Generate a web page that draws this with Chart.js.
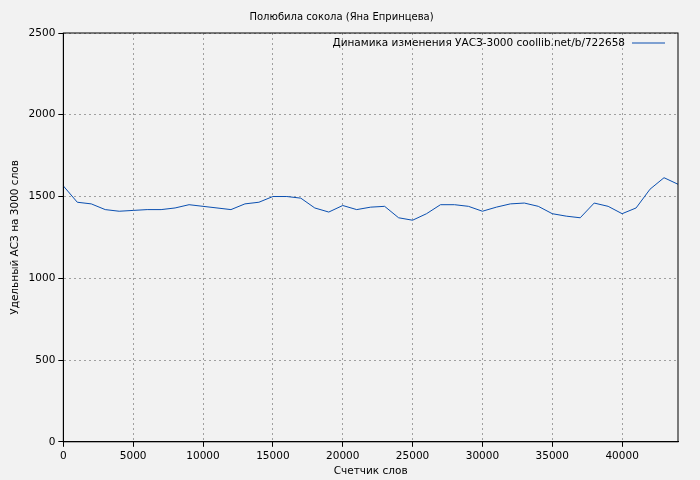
<!DOCTYPE html>
<html>
<head>
  <script src="https://cdn.jsdelivr.net/npm/chart.js@4"></script>
  <style>
    body { margin: 0; background: #f2f2f2; }
    #wrap { width: 700px; height: 480px; }
  </style>
</head>
<body>
  <div id="wrap"><canvas id="chart"></canvas></div>
  <script>
    // точки через каждые 1000 слов
    const words = [0, 1000, 2000, 3000, 4000, 5000, 6000, 7000, 8000, 9000, 10000, 11000, 12000, 13000, 14000,
      15000, 16000, 17000, 18000, 19000, 20000, 21000, 22000, 23000, 24000, 25000, 26000, 27000, 28000, 29000,
      30000, 31000, 32000, 33000, 34000, 35000, 36000, 37000, 38000, 39000, 40000, 41000, 42000, 43000, 44000];
    const uas = [1565, 1465, 1455, 1420, 1410, 1415, 1420, 1420, 1430, 1450, 1440, 1430, 1420, 1455, 1465,
      1500, 1500, 1490, 1430, 1405, 1445, 1420, 1435, 1440, 1370, 1355, 1395, 1450, 1450, 1440,
      1410, 1435, 1455, 1460, 1440, 1395, 1380, 1370, 1460, 1440, 1395, 1430, 1545, 1615, 1575];
    const xTicks = [0, 5000, 10000, 15000, 20000, 25000, 30000, 35000, 40000];
    const yTicks = [0, 500, 1000, 1500, 2000, 2500];
    const seriesLabel = 'Динамика изменения УАСЗ-3000 coollib.net/b/722658';
    const lineColor = '#0a4fb0';

    const legendRight = {
      id: 'legendRight',
      afterDraw(chart) {
        const { ctx, chartArea } = chart;
        ctx.save();
        ctx.font = '10.5px "DejaVu Sans"';
        ctx.fillStyle = '#000';
        ctx.textAlign = 'right';
        ctx.textBaseline = 'middle';
        const y = chartArea.top + 10;
        ctx.fillText(seriesLabel, chartArea.right - 53, y);
        ctx.strokeStyle = lineColor;
        ctx.lineWidth = 1;
        ctx.beginPath();
        ctx.moveTo(chartArea.right - 46, y);
        ctx.lineTo(chartArea.right - 13, y);
        ctx.stroke();
        ctx.strokeStyle = '#000';
        ctx.strokeRect(chartArea.left, chartArea.top, chartArea.right - chartArea.left, chartArea.bottom - chartArea.top);
        ctx.restore();
      }
    };

    const gridCommon = {
      color: '#a0a0a0',
      tickColor: '#000',
      tickLength: 5
    };
    const tickFont = { family: 'DejaVu Sans', size: 10.5 };

    new Chart(document.getElementById('chart'), {
      type: 'line',
      data: {
        datasets: [{
          label: seriesLabel,
          data: words.map((w, i) => ({ x: w, y: uas[i] })),
          borderColor: lineColor,
          borderWidth: 1,
          pointRadius: 0,
          tension: 0
        }]
      },
      options: {
        responsive: true,
        maintainAspectRatio: false,
        animation: false,
        layout: { padding: { left: 5, right: 22, top: 2, bottom: 2 } },
        plugins: {
          legend: { display: false },
          title: {
            display: true,
            text: 'Полюбила сокола (Яна Епринцева)',
            color: '#000',
            font: { family: 'DejaVu Sans', size: 10, weight: 'normal' },
            padding: { top: 9, bottom: 10 }
          }
        },
        scales: {
          x: {
            type: 'linear',
            min: 0,
            max: 44000,
            afterBuildTicks: s => { s.ticks = xTicks.map(v => ({ value: v })); },
            ticks: { color: '#000', font: tickFont, maxRotation: 0, callback: v => String(v) },
            grid: gridCommon,
            border: { display: true, color: '#000', dash: [2, 3] },
            title: { display: true, text: 'Счетчик слов', color: '#000', font: tickFont, padding: 0 }
          },
          y: {
            min: 0,
            max: 2500,
            afterBuildTicks: s => { s.ticks = yTicks.map(v => ({ value: v })); },
            ticks: { color: '#000', font: tickFont, callback: v => String(v) },
            grid: gridCommon,
            border: { display: true, color: '#000', dash: [2, 3] },
            title: { display: true, text: 'Удельный АСЗ на 3000 слов', color: '#000', font: tickFont, padding: 4 }
          }
        }
      },
      plugins: [legendRight]
    });
  </script>
</body>
</html>
